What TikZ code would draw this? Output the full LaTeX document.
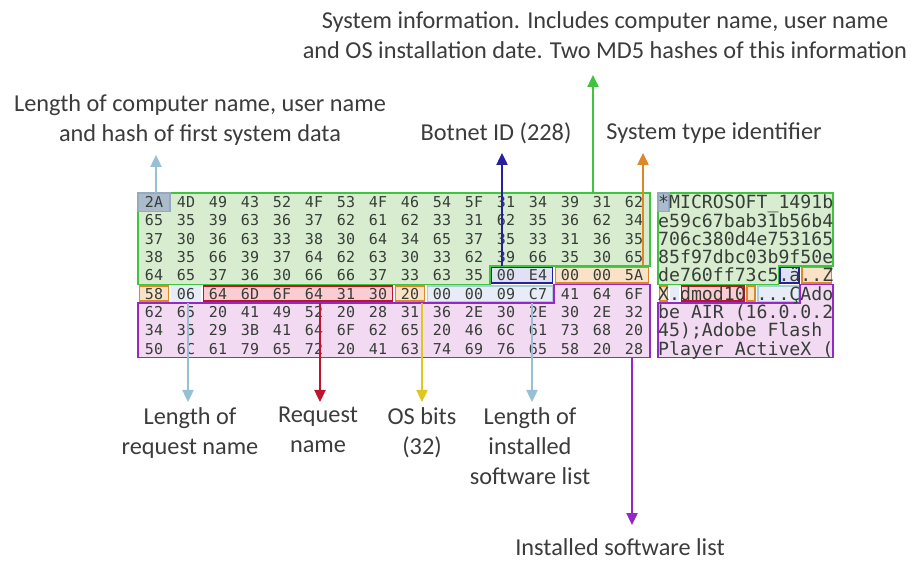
\documentclass[tikz,border=0pt]{standalone}
\usepackage{fontspec}
\setmainfont{Carlito}
\newfontfamily\hexfont{DejaVu Sans Mono}
\usetikzlibrary{arrows.meta, calc}
\definecolor{txtgray}{RGB}{60,60,60}
\definecolor{hexgray}{RGB}{55,62,55}
\definecolor{sysgreen}{RGB}{62,196,62}
\definecolor{greenfill}{RGB}{216,237,208}
\definecolor{graydraw}{RGB}{150,170,190}
\definecolor{grayfill}{RGB}{172,187,203}
\definecolor{botblue}{RGB}{40,30,160}
\definecolor{bluefill}{RGB}{224,224,246}
\definecolor{sysorange}{RGB}{222,135,40}
\definecolor{orangefill}{RGB}{250,226,200}
\definecolor{reqred}{RGB}{190,20,45}
\definecolor{redfill}{RGB}{250,205,210}
\definecolor{osyellow}{RGB}{222,200,30}
\definecolor{lenblue}{RGB}{150,192,212}
\definecolor{lendraw}{RGB}{170,205,215}
\definecolor{lenfill}{RGB}{232,236,246}
\definecolor{swpurple}{RGB}{150,40,200}
\definecolor{purplefill}{RGB}{243,218,243}

\begin{document}
\begin{tikzpicture}[x=1pt, y=-1pt,
    caption/.style={font=\fontsize{24.3}{30}\selectfont, text=txtgray, align=center, inner sep=3pt},
    hexbyte/.style={font=\hexfont\fontsize{15}{15}\selectfont, text=hexgray, inner sep=0pt},
    asciirow/.style={font=\hexfont\fontsize{18.17}{18}\selectfont, text=hexgray, inner sep=0pt, anchor=base west},
    greenbox/.style={draw=sysgreen, fill=greenfill, line width=1.6pt},
    graybox/.style={draw=graydraw, fill=grayfill, line width=1.2pt},
    bluebox/.style={draw=botblue, fill=bluefill, line width=1.6pt},
    orangebox/.style={draw=sysorange, fill=orangefill, line width=1.6pt},
    redbox/.style={draw=reqred, fill=redfill, line width=1.6pt},
    lenbox/.style={draw=lendraw, fill=lenfill, line width=1.4pt},
    purplebox/.style={draw=swpurple, fill=purplefill, line width=1.6pt},
    pointer/.style={line width=2.4pt, -{Triangle[length=12pt, width=11pt]}}
  ]
  \fill[white] (0,0) rectangle (911,561);
  \useasboundingbox (0,0) rectangle (911,561);

  % grid of the dump: hex columns X, ascii columns A, rows Y
  \foreach \i in {0,...,16} {
    \coordinate (X\i) at ({138+32*\i},0);
    \coordinate (A\i) at ({658+10.94*\i},0);
  }
  \foreach \r in {0,...,9}
    \coordinate (Y\r) at (0,{193+18.3*\r});

  % highlighted fields, same in both panels
  \foreach \p in {X,A} {
    \draw[greenbox] (\p0|-Y0) -- (\p16|-Y0) -- (\p16|-Y4) -- (\p11|-Y4) -- (\p11|-Y5) -- (\p0|-Y5) -- cycle;
    \draw[purplebox] (\p13|-Y5) -- (\p16|-Y5) -- (\p16|-Y9) -- (\p0|-Y9) -- (\p0|-Y6) -- (\p13|-Y6) -- cycle;
    \draw[graybox] (\p0|-Y0) rectangle (\p1|-Y1);
    \draw[bluebox] ($(\p11|-Y4)+(1.5,1.5)$) rectangle ($(\p13|-Y5)+(-1.5,-1.5)$);
    \draw[orangebox] ($(\p13|-Y4)+(1.5,1.5)$) rectangle ($(\p16|-Y5)+(-1.5,-1.5)$);
    \draw[orangebox] ($(\p0|-Y5)+(1.5,1.5)$) rectangle ($(\p1|-Y6)+(-1.5,-1.5)$);
    \draw[lenbox, draw=lenfill] ($(\p1|-Y5)+(1.5,1.5)$) rectangle ($(\p2|-Y6)+(-1.5,-1.5)$);
    \draw[redbox] ($(\p2|-Y5)+(1.5,1.5)$) rectangle ($(\p8|-Y6)+(-1.5,-1.5)$);
    \draw[orangebox] ($(\p8|-Y5)+(1.5,1.5)$) rectangle ($(\p9|-Y6)+(-1.5,-1.5)$);
    \draw[lenbox] ($(\p9|-Y5)+(1.5,1.5)$) rectangle ($(\p13|-Y6)+(-1.5,-1.5)$);
  }

  % hex bytes
  \foreach \r/\bytes in {
      0/{2A,4D,49,43,52,4F,53,4F,46,54,5F,31,34,39,31,62},
      1/{65,35,39,63,36,37,62,61,62,33,31,62,35,36,62,34},
      2/{37,30,36,63,33,38,30,64,34,65,37,35,33,31,36,35},
      3/{38,35,66,39,37,64,62,63,30,33,62,39,66,35,30,65},
      4/{64,65,37,36,30,66,66,37,33,63,35,00,E4,00,00,5A},
      5/{58,06,64,6D,6F,64,31,30,20,00,00,09,C7,41,64,6F},
      6/{62,65,20,41,49,52,20,28,31,36,2E,30,2E,30,2E,32},
      7/{34,35,29,3B,41,64,6F,62,65,20,46,6C,61,73,68,20},
      8/{50,6C,61,79,65,72,20,41,63,74,69,76,65,58,20,28}} {
    \foreach \b [count=\c from 0] in \bytes
      \node[hexbyte] (h\r-\c) at ({154+32*\c},{202.15+18.3*\r}) {\b};
  }

  % ascii column
  \foreach \r/\chars in {
      0/{*MICROSOFT\textunderscore 1491b}, 1/{e59c67bab31b56b4}, 2/{706c380d4e753165},
      3/{85f97dbc03b9f50e}, 4/{de760ff73c5.ä..Z}, 5/{X.dmod10 ...ÇAdo},
      6/{be AIR (16.0.0.2}, 7/{45);Adobe Flash}, 8/{Player ActiveX (}}
    \node[asciirow] (a\r) at (658,{208.8+18.3*\r}) {\chars};

  % captions
  \node[caption, anchor=south] (capLenName) at (200,149) {Length of computer name, user name\\and hash of first system data};
  \node[caption, anchor=south] (capBotnet) at (496,147) {Botnet ID (228)};
  \node[caption, anchor=south] (capSysType) at (714,147) {System type identifier};
  \node[caption, anchor=south] (capSysInfo) at (605,62) {System information. Includes computer name, user name\\and OS installation date. Two MD5 hashes of this information};
  \node[caption, anchor=north] (capLenReq) at (190,404) {Length of\\request name};
  \node[caption, anchor=north] (capReqName) at (318,404) {Request\\name};
  \node[caption, anchor=north] (capOsBits) at (422,404) {OS bits\\(32)};
  \node[caption, anchor=north] (capLenSw) at (530,404) {Length of\\installed\\software list};
  \node[caption, anchor=north] (capSwList) at (620,535) {Installed software list};

  % pointers
  \coordinate (tLenName) at (156,193);
  \coordinate (tBotnet) at (502,266.2);
  \coordinate (tSysInfo) at (593,193);
  \coordinate (tSysType) at (643,266.2);
  \coordinate (tLenReq) at (188,302.8);
  \coordinate (tReqName) at (320,302.8);
  \coordinate (tOsBits) at (422,302.8);
  \coordinate (tLenSw) at (532,302.8);
  \coordinate (tSwList) at (632,357.7);
  \draw[pointer, lenblue, shorten >=6pt] (tLenName) -- (tLenName |- capLenName.south);
  \draw[pointer, botblue, shorten >=6pt] (tBotnet) -- (tBotnet |- capBotnet.south);
  \draw[pointer, sysgreen, shorten >=13pt] (tSysInfo) -- (tSysInfo |- capSysInfo.south);
  \draw[pointer, sysorange, shorten >=6pt] (tSysType) -- (tSysType |- capSysType.south);
  \draw[pointer, lenblue, shorten >=2pt] (tLenReq) -- (tLenReq |- capLenReq.north);
  \draw[pointer, reqred, shorten >=2pt] (tReqName) -- (tReqName |- capReqName.north);
  \draw[pointer, osyellow, shorten >=2pt] (tOsBits) -- (tOsBits |- capOsBits.north);
  \draw[pointer, lenblue, shorten >=2pt] (tLenSw) -- (tLenSw |- capLenSw.north);
  \draw[pointer, swpurple, shorten >=10pt] (tSwList) -- (tSwList |- capSwList.north);
\end{tikzpicture}
\end{document}
